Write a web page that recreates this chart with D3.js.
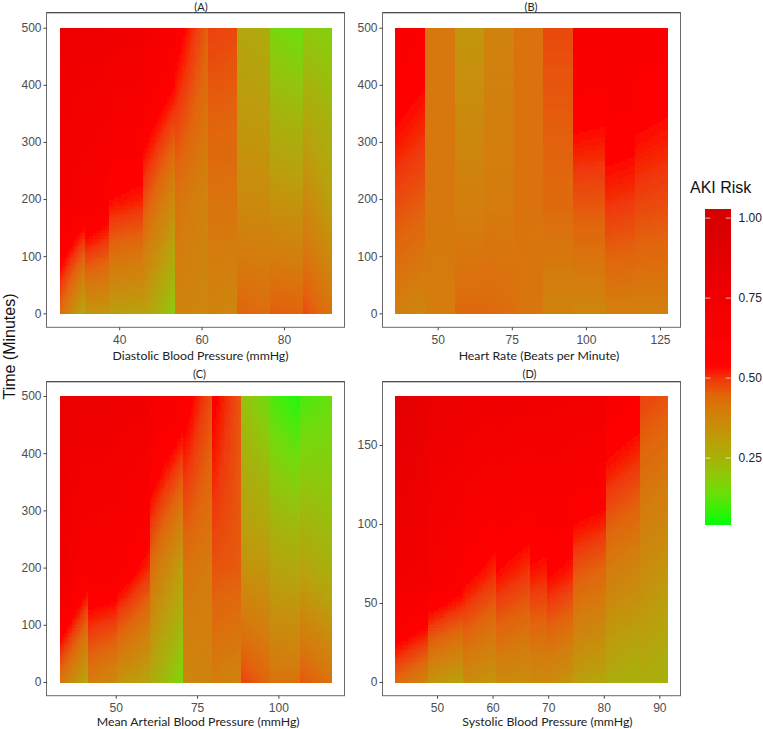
<!DOCTYPE html>
<html><head><meta charset="utf-8">
<script src="https://cdn.jsdelivr.net/npm/d3@7"></script>
<style>html,body{margin:0;padding:0;background:#fff}svg{display:block}</style>
</head><body><div id="c"></div>
<script>
// Risk for each band: [left edge, right edge] at three times
const aEdges=[25.5,31.6,37.6,45.7,53.5,61.5,68.5,76.6,84.7,91.6];
const aStart=[[.44,.27],[.33,.33],[.31,.30],[.31,.19],[.38,.37],[.38,.37],[.45,.43],[.46,.45],[.48,.42]];
const aMid=[[.70,.62],[.65,.59],[.54,.52],[.48,.36],[.42,.38],[.42,.42],[.36,.36],[.34,.33],[.37,.30]];
const aEnd=[[.77,.76],[.76,.76],[.75,.74],[.70,.63],[.58,.45],[.49,.48],[.29,.27],[.17,.14],[.20,.18]];

const bEdges=[35.7,45.8,55.7,65.7,75.6,85.6,95.5,106.4,116.5,127.6];
const bStart=[[.39,.37],[.40,.40],[.44,.44],[.44,.43],[.42,.41],[.38,.38],[.37,.37],[.39,.39],[.39,.39]];
const bMid=[[.48,.46],[.41,.41],[.39,.39],[.40,.40],[.42,.42],[.44,.44],[.47,.47],[.51,.50],[.49,.48]];
const bEnd=[[.62,.58],[.41,.41],[.33,.33],[.38,.38],[.42,.42],[.48,.48],[.65,.63],[.66,.65],[.62,.60]];

const cEdges=[32.7,41.6,50.5,60.6,70.6,79.6,88.5,97.4,106.5,116.4];
const cStart=[[.42,.28],[.40,.36],[.34,.29],[.28,.16],[.37,.38],[.40,.38],[.49,.44],[.42,.42],[.47,.42]];
const cMid=[[.75,.60],[.62,.61],[.60,.51],[.44,.30],[.42,.40],[.47,.46],[.34,.33],[.30,.28],[.30,.25]];
const cEnd=[[.80,.78],[.78,.77],[.76,.74],[.69,.60],[.58,.47],[.56,.46],[.22,.15],[.12,.07],[.11,.14]];

const dEdges=[42.5,48.4,54.6,60.6,66.7,69.7,74.4,80.4,86.5,91.5];
const dStart=[[.44,.38],[.34,.30],[.36,.33],[.36,.35],[.36,.36],[.36,.33],[.31,.29],[.27,.25],[.27,.25]];
const dMid=[[.74,.70],[.66,.60],[.57,.51],[.54,.50],[.53,.52],[.55,.52],[.47,.44],[.40,.37],[.36,.33]];
const dEnd=[[.88,.82],[.80,.78],[.77,.75],[.76,.74],[.74,.74],[.74,.72],[.73,.72],[.62,.58],[.49,.47]];

const abcTimes=[0,200,500];
const dTimes=[0,70,181];
const abcTicksY=[0,100,200,300,400,500];
const dTicksY=[0,50,100,150];
const aTicksX=[40,60,80];
const bTicksX=[50,75,100,125];
const cTicksX=[50,75,100];
const dTicksX=[50,60,70,80,90];
const legendTicks=[.25,.5,.75,1];
const legendDomain=[.044,1.03];
const colorKnots=[.044,.10,.15,.20,.25,.30,.35,.40,.45,.50,.54,.75,1.03];
const colorStops=["#00ff08","#40ee08","#70dc08","#8fc808","#a6b208","#b8a208","#c88e08","#d47c08","#e26408","#f03808","#ff0400","#f00000","#d40000"];

const color=d3.scaleLinear().domain(colorKnots).range(colorStops);
const W=763,H=729;
const svg=d3.select("#c").append("svg").attr("width",W).attr("height",H).attr("viewBox",`0 0 ${W} ${H}`);
const sans="'Liberation Sans',Arial,sans-serif", label="Lato,'Open Sans',sans-serif";
const defs=svg.append("defs");
defs.append("filter").attr("id","soft").attr("x","-2%").attr("y","-2%").attr("width","104%").attr("height","104%")
  .append("feGaussianBlur").attr("stdDeviation",.7);

const panels=[
 {t:"(A)",xl:"Diastolic Blood Pressure (mmHg)",lc:200.5,tc:201,e:aEdges,s:aStart,m:aMid,n:aEnd,ts:abcTimes,tx:aTicksX,ty:abcTicksY,fx:[46.5,344.5],fy:[12.7,327.3],rx:[59.5,331.7],ry:[313.3,27.7],ty0:6,ly:355.5,tkY:340},
 {t:"(B)",xl:"Heart Rate (Beats per Minute)",lc:539,tc:531,e:bEdges,s:bStart,m:bMid,n:bEnd,ts:abcTimes,tx:bTicksX,ty:abcTicksY,fx:[382.5,680.5],fy:[12.7,327.3],rx:[395.3,667.7],ry:[313.3,27.7],ty0:6,ly:355.5,tkY:340},
 {t:"(C)",xl:"Mean Arterial Blood Pressure (mmHg)",lc:198.2,tc:199.5,e:cEdges,s:cStart,m:cMid,n:cEnd,ts:abcTimes,tx:cTicksX,ty:abcTicksY,fx:[46.5,344.5],fy:[381.7,695.7],rx:[59.5,331.7],ry:[682,396],ty0:373,ly:721.5,tkY:708},
 {t:"(D)",xl:"Systolic Blood Pressure (mmHg)",lc:547.5,tc:529.5,e:dEdges,s:dStart,m:dMid,n:dEnd,ts:dTimes,tx:dTicksX,ty:dTicksY,fx:[382.5,680.5],fy:[381.7,695.7],rx:[395.3,667.7],ry:[682,396],ty0:373,ly:721.5,tkY:708}
];

panels.forEach(p=>{
  const g=svg.append("g");
  const x=d3.scaleLinear().domain([p.e[0],p.e[p.e.length-1]]).range(p.rx);
  const y=d3.scaleLinear().domain([p.ts[0],p.ts[2]]).range(p.ry);
  const cells=[];
  const rows=110;
  const rowTimes=d3.range(rows).map(i=>p.ts[0]+(p.ts[2]-p.ts[0])*(i+.5)/rows);
  const rowH=(p.ts[2]-p.ts[0])/rows;
  p.s.forEach((_,c)=>{
    const x0=p.e[c],x1=p.e[c+1];
    const slices=Math.max(2,Math.round((x(x1)-x(x0))/2));
    for(let k=0;k<slices;k++){
      const f=(k+.5)/slices;
      const vS=p.s[c][0]+(p.s[c][1]-p.s[c][0])*f;
      const vM=p.m[c][0]+(p.m[c][1]-p.m[c][0])*f;
      const vN=p.n[c][0]+(p.n[c][1]-p.n[c][0])*f;
      const shade=d3.scaleLinear().domain(p.ts).range([vS,vM,vN]);
      rowTimes.forEach(t=>cells.push({a:x0+(x1-x0)*k/slices,b:x0+(x1-x0)*(k+1)/slices,t,v:shade(t)}));
    }
  });
  g.append("g").attr("filter","url(#soft)").attr("shape-rendering","crispEdges").selectAll("rect").data(cells).join("rect")
    .attr("x",d=>x(d.a)).attr("width",d=>x(d.b)-x(d.a)+.6)
    .attr("y",d=>y(d.t+rowH/2)).attr("height",d=>y(d.t-rowH/2)-y(d.t+rowH/2)+.6)
    .attr("fill",d=>color(d.v));
  // frame
  g.append("rect").attr("x",p.fx[0]).attr("y",p.fy[0]).attr("width",p.fx[1]-p.fx[0]).attr("height",p.fy[1]-p.fy[0])
    .attr("fill","none").attr("stroke","#6a6a6a").attr("stroke-width",1);
  g.append("line").attr("x1",p.fx[0]).attr("x2",p.fx[1]).attr("y1",p.fy[0]).attr("y2",p.fy[0]).attr("stroke","#444").attr("stroke-width",1);
  // axes
  const ax=g.append("g").attr("transform",`translate(0,${p.fy[1]})`)
    .call(d3.axisBottom(x).tickValues(p.tx).tickSize(3).tickPadding(2));
  const ay=g.append("g").attr("transform",`translate(${p.fx[0]},0)`)
    .call(d3.axisLeft(y).tickValues(p.ty).tickSize(3).tickPadding(2));
  [ax,ay].forEach(a=>{
    a.select(".domain").remove();
    a.selectAll("line").attr("stroke","#444");
    a.selectAll("text").attr("fill","#4d4d4d").style("font-family",sans).style("font-size","12px");
  });
  ax.selectAll("text").attr("dy",null).attr("dominant-baseline","central").attr("y",p.tkY-p.fy[1]);
  g.append("text").attr("x",p.tc).attr("y",p.ty0).attr("text-anchor","middle").attr("dominant-baseline","central")
    .style("font-family",label).style("font-size","11px").attr("fill","#222").text(p.t);
  g.append("text").attr("x",p.lc).attr("y",p.ly).attr("text-anchor","middle").attr("dominant-baseline","central")
    .style("font-family",label).style("font-size","12.3px").attr("fill","#222").text(p.xl);
});

svg.append("text").attr("transform","translate(9,346.5) rotate(-90)").attr("text-anchor","middle").attr("dominant-baseline","central")
  .style("font-family",sans).style("font-size","16px").attr("fill","#111").text("Time (Minutes)");
svg.append("text").attr("x",690).attr("y",193).style("font-family",sans).style("font-size","16px").attr("fill","#111").text("AKI Risk");

// legend
const ly=d3.scaleLinear().domain(legendDomain).range([524,208.5]);
const lx0=705.3,lx1=730.7;
const steps=d3.range(160).map(i=>legendDomain[0]+(legendDomain[1]-legendDomain[0])*i/160);
const dv=(legendDomain[1]-legendDomain[0])/160;
const lg=svg.append("g");
lg.append("g").attr("shape-rendering","crispEdges").selectAll("rect").data(steps).join("rect")
  .attr("x",lx0).attr("width",lx1-lx0).attr("y",d=>ly(d+dv)).attr("height",d=>ly(d)-ly(d+dv)+.6).attr("fill",d=>color(d+dv/2));
legendTicks.forEach(v=>{
  lg.append("line").attr("x1",lx0).attr("x2",lx0+5).attr("y1",ly(v)).attr("y2",ly(v)).attr("stroke","#fff").attr("stroke-opacity",.7);
  lg.append("line").attr("x1",lx1-5).attr("x2",lx1).attr("y1",ly(v)).attr("y2",ly(v)).attr("stroke","#fff").attr("stroke-opacity",.7);
  lg.append("text").attr("x",738.5).attr("y",ly(v)).attr("dominant-baseline","central")
    .style("font-family",sans).style("font-size","12px").attr("fill","#222").text(d3.format(".2f")(v));
});
</script></body></html>
